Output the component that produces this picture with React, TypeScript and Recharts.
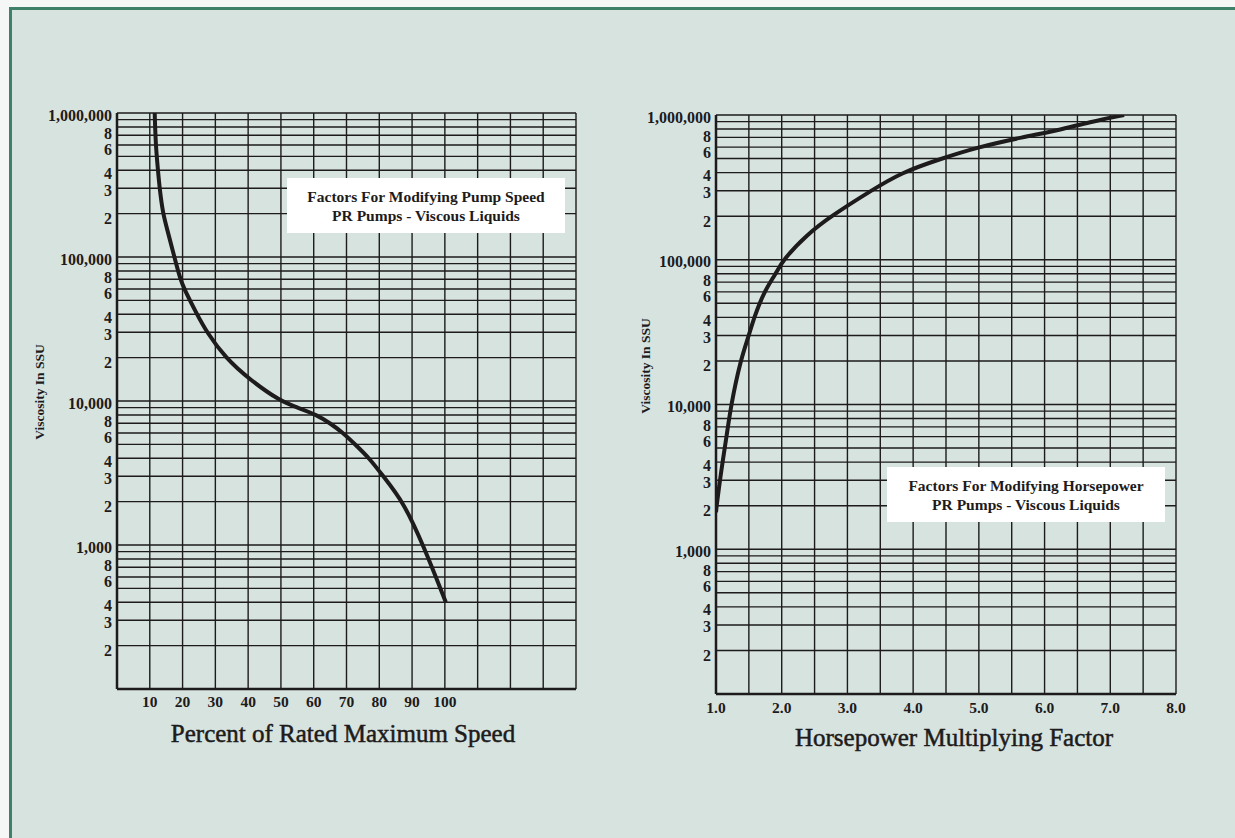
import { CartesianGrid, Line, LineChart, XAxis, YAxis } from "recharts";

// left chart: pump speed vs viscosity
const speedPct = [11.5, 11.8, 12.5, 13, 14, 15.5, 17.5, 19.3, 20.5, 24.4, 27.4, 33, 40.6, 49.7, 55, 61, 65, 69, 72.6, 77, 81.2, 87.3, 93.4, 100.3];
const speedVisc = [1000000, 600000, 400000, 300000, 200000, 150000, 100000, 70000, 60000, 40000, 30000, 20000, 14000, 10000, 9000, 8000, 7000, 6000, 5000, 4000, 3000, 2000, 1000, 400];

// right chart: horsepower factor vs viscosity
const hpFactor = [1.0, 1.01, 1.06, 1.1, 1.16, 1.23, 1.37, 1.5, 1.58, 1.73, 1.91, 2.02, 2.39, 2.75, 3.36, 3.82, 4.43, 4.99, 5.65, 6.29, 6.72, 7.21];
const hpVisc = [1800, 2000, 3000, 4000, 6000, 10000, 20000, 30000, 40000, 60000, 80000, 100000, 150000, 200000, 300000, 400000, 500000, 600000, 700000, 800000, 900000, 1000000];

const speedTicks = [0, 10, 20, 30, 40, 50, 60, 70, 80, 90, 100, 110, 120, 130, 140];
const speedLabels = [10, 20, 30, 40, 50, 60, 70, 80, 90, 100];
const hpTicks = [1, 1.5, 2, 2.5, 3, 3.5, 4, 4.5, 5, 5.5, 6, 6.5, 7, 7.5, 8];
const hpLabels = [1, 2, 3, 4, 5, 6, 7, 8];

const decades = [100, 1000, 10000, 100000];
const steps = [1, 2, 3, 4, 5, 6, 7, 8, 9];
const viscTicks = [...decades.flatMap((d) => steps.map((s) => d * s)), 1000000];
const decadeLabels: Record<number, string> = { 1000: "1,000", 10000: "10,000", 100000: "100,000", 1000000: "1,000,000" };
const stepLabels = [2, 3, 4, 6, 8];
// the printed digits sit a little under their gridline
const stepNudge: Record<number, number> = { 2: 5, 3: 2, 4: 3, 6: 5, 8: 7 };

const INK = "#1d1b1b";
const FONT = "'Liberation Serif', 'Times New Roman', serif";

const speedData = speedPct.map((x, i) => ({ x, v: speedVisc[i] }));
const hpData = hpFactor.map((x, i) => ({ x, v: hpVisc[i] }));

function viscLabel(v: number): [string, number] {
  if (decadeLabels[v]) return [decadeLabels[v], 2];
  const d = Math.pow(10, Math.floor(Math.log10(v) + 1e-9));
  const s = Math.round(v / d);
  return stepLabels.includes(s) ? [String(s), stepNudge[s]] : ["", 0];
}

const YTick = ({ x, y, payload }: any) => {
  const [label, dy] = viscLabel(payload.value);
  if (!label) return null;
  return (
    <text x={x} y={y + dy} textAnchor="end" dominantBaseline="central" fill={INK} fontFamily={FONT} fontWeight="bold" fontSize={16}>
      {label}
    </text>
  );
};

const makeXTick = (labels: number[], fmt: (v: number) => string) => ({ x, y, payload }: any) => {
  if (!labels.includes(payload.value)) return null;
  return (
    <text x={x} y={y} textAnchor="middle" dominantBaseline="central" fill={INK} fontFamily={FONT} fontWeight="bold" fontSize={15.5}>
      {fmt(payload.value)}
    </text>
  );
};

const SpeedTick = makeXTick(speedLabels, (v) => String(v));
const HpTick = makeXTick(hpLabels, (v) => v.toFixed(1));

function ViscChart({ data, domain, ticks, tick, tickMargin, margin, width }: any) {
  return (
    <LineChart width={width} height={838} data={data} margin={margin}>
      <CartesianGrid stroke={INK} strokeWidth={1.4} />
      <XAxis
        dataKey="x"
        type="number"
        domain={domain}
        ticks={ticks}
        interval={0}
        allowDataOverflow
        height={30}
        tickSize={0}
        tickMargin={tickMargin}
        tick={tick}
        axisLine={{ stroke: INK, strokeWidth: 2.5 }}
        tickLine={false}
      />
      <YAxis
        dataKey="v"
        type="number"
        scale="log"
        domain={[100, 1000000]}
        ticks={viscTicks}
        interval={0}
        allowDataOverflow
        width={80}
        tickSize={0}
        tickMargin={5}
        tick={<YTick />}
        axisLine={{ stroke: INK, strokeWidth: 2.5 }}
        tickLine={false}
      />
      <Line type="basis" dataKey="v" stroke={INK} strokeWidth={4} dot={false} isAnimationActive={false} />
    </LineChart>
  );
}

const boxStyle: React.CSSProperties = {
  position: "absolute",
  background: "#ffffff",
  width: 278,
  height: 55,
  display: "flex",
  flexDirection: "column",
  justifyContent: "center",
  alignItems: "center",
  fontFamily: FONT,
  fontWeight: "bold",
  fontSize: 15.5,
  lineHeight: "19px",
  color: INK,
};

const axisTitle: React.CSSProperties = {
  position: "absolute",
  fontFamily: FONT,
  fontSize: 25,
  color: INK,
  WebkitTextStroke: "0.5px #1d1b1b",
  whiteSpace: "nowrap",
  transform: "translateX(-50%)",
};

const yTitle: React.CSSProperties = {
  position: "absolute",
  fontFamily: FONT,
  fontWeight: "bold",
  fontSize: 13.5,
  color: INK,
  whiteSpace: "nowrap",
  transform: "translate(-50%, -50%) rotate(-90deg)",
};

export default function App() {
  return (
    <div style={{ position: "absolute", left: 0, top: 0, width: 1235, height: 838, background: "#f4f7f6", overflow: "hidden" }}>
      <div
        style={{
          position: "absolute",
          left: 9,
          top: 7,
          right: 0,
          bottom: 0,
          background: "#d7e3df",
          borderTop: "3px solid #3f8069",
          borderLeft: "3px solid #3f8069",
        }}
      />
      <div style={{ position: "absolute", left: 0, top: 0 }}>
        <ViscChart
          width={600}
          data={speedData}
          domain={[0, 140]}
          ticks={speedTicks}
          tick={<SpeedTick />}
          tickMargin={12}
          margin={{ top: 113, left: 37, right: 24, bottom: 119 }}
        />
      </div>
      <div style={{ position: "absolute", left: 600, top: 0 }}>
        <ViscChart
          width={635}
          data={hpData}
          domain={[1, 8]}
          ticks={hpTicks}
          tick={<HpTick />}
          tickMargin={13}
          margin={{ top: 115, left: 36, right: 59, bottom: 114 }}
        />
      </div>

      <div style={{ ...boxStyle, left: 287, top: 178 }}>
        <div>Factors For Modifying Pump Speed</div>
        <div>PR Pumps - Viscous Liquids</div>
      </div>
      <div style={{ ...boxStyle, left: 887, top: 467 }}>
        <div>Factors For Modifying Horsepower</div>
        <div>PR Pumps - Viscous Liquids</div>
      </div>

      <div style={{ ...axisTitle, left: 343, top: 720 }}>Percent of Rated Maximum Speed</div>
      <div style={{ ...axisTitle, left: 954, top: 724 }}>Horsepower Multiplying Factor</div>

      <div style={{ ...yTitle, left: 40, top: 392 }}>Viscosity In SSU</div>
      <div style={{ ...yTitle, left: 646, top: 366 }}>Viscosity In SSU</div>
    </div>
  );
}
